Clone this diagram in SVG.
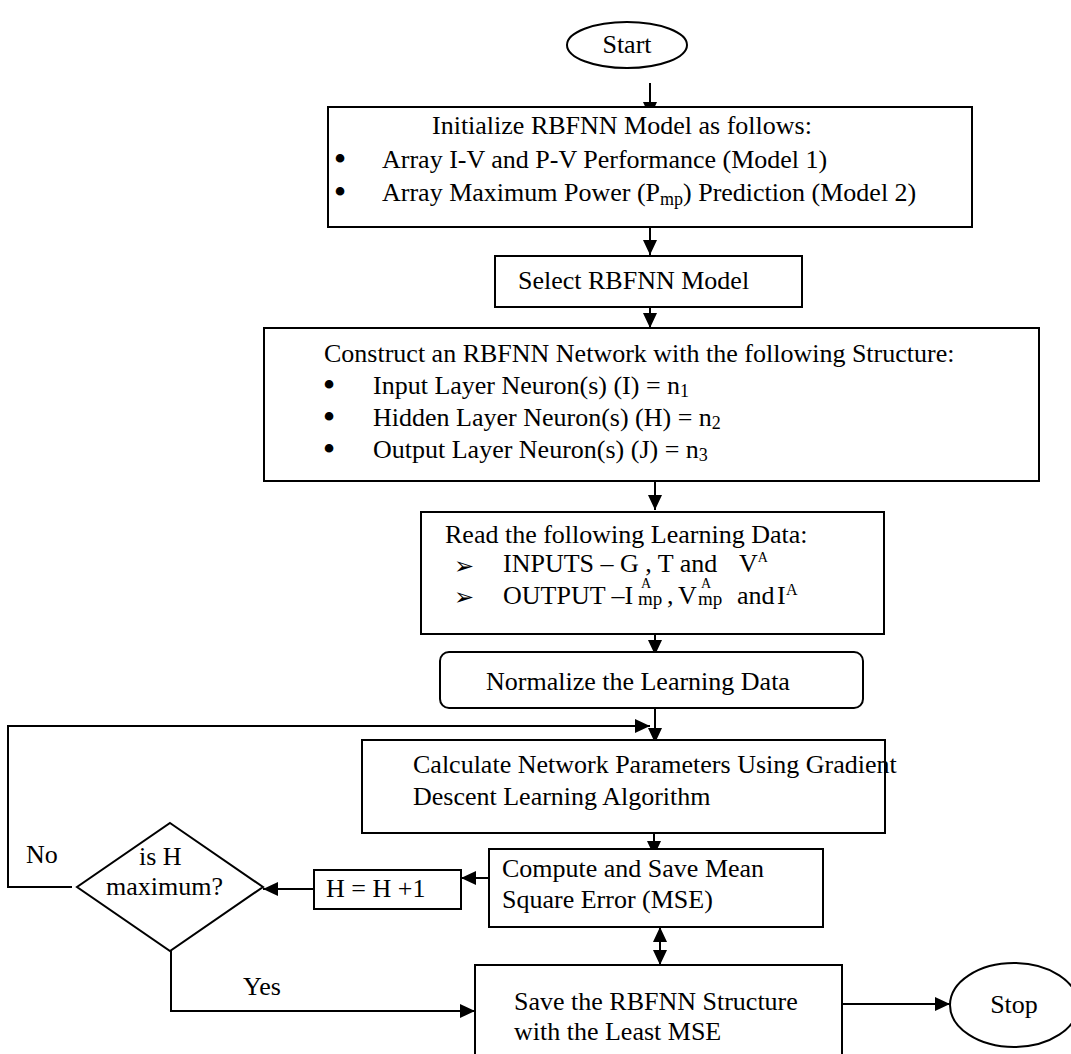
<svg xmlns="http://www.w3.org/2000/svg" width="1071" height="1054" viewBox="0 0 1071 1054">
<style>
  .box { fill: #ffffff; stroke: #000000; stroke-width: 2; }
  .t { font-family: "Liberation Serif", "Times New Roman", serif; font-size: 26px; fill: #000000; }
  .sm { font-size: 18px; }
  .sup { font-size: 14px; }
  .sub { font-size: 19px; }
  .dot { font-family: "Liberation Serif", "Times New Roman", serif; font-size: 36px; fill: #000000; }
  .bul { font-family: "DejaVu Sans", sans-serif; font-size: 24px; fill: #000000; }
  .c { fill: none; stroke: #000000; stroke-width: 2; }
</style>
<defs>
  <marker id="ah" markerUnits="userSpaceOnUse" markerWidth="16" markerHeight="14" refX="15" refY="7" orient="auto-start-reverse">
    <path d="M0,0 L15,7 L0,14 Z" fill="#000000"/>
  </marker>
</defs>
<rect width="1071" height="1054" fill="#ffffff"/>

<g id="connectors">
  <path class="c" d="M650,83 V117" marker-end="url(#ah)"/>
  <path class="c" d="M650,227 V255" marker-end="url(#ah)"/>
  <path class="c" d="M650,307 V328" marker-end="url(#ah)"/>
  <path class="c" d="M655,481 V510" marker-end="url(#ah)"/>
  <path class="c" d="M655,634 V655" marker-end="url(#ah)"/>
  <path class="c" d="M655,708 V743" marker-end="url(#ah)"/>
  <path class="c" d="M72,887 H8 V726 H650" marker-end="url(#ah)"/>
  <path class="c" d="M654,833 V856" marker-end="url(#ah)"/>
  <path class="c" d="M505,878 H461" marker-end="url(#ah)"/>
  <path class="c" d="M314,889 H263" marker-end="url(#ah)"/>
  <path class="c" d="M171,951 V1011 H475" marker-end="url(#ah)"/>
  <path class="c" d="M660,927 V965" marker-start="url(#ah)" marker-end="url(#ah)"/>
  <path class="c" d="M842,1004 H950" marker-end="url(#ah)"/>
</g>

<g id="start">
  <ellipse class="box" cx="627" cy="45" rx="60" ry="23"/>
  <text class="t" x="627" y="53" text-anchor="middle">Start</text>
</g>

<g id="init">
  <rect class="box" x="328" y="107" width="644" height="120"/>
  <text class="t" x="432" y="134">Initialize RBFNN Model as follows:</text>
  <text class="dot" x="340" y="171" text-anchor="middle">•</text>
  <text class="t" x="382" y="168">Array I-V and P-V Performance (Model 1)</text>
  <text class="dot" x="340" y="204" text-anchor="middle">•</text>
  <text class="t" x="382" y="201">Array Maximum Power (P<tspan class="sm" dy="4">mp</tspan><tspan dy="-4">) Prediction (Model 2)</tspan></text>
</g>

<g id="select">
  <rect class="box" x="495" y="256" width="307" height="51"/>
  <text class="t" x="518" y="289">Select RBFNN Model</text>
</g>

<g id="construct">
  <rect class="box" x="264" y="328" width="775" height="153"/>
  <text class="t" x="324" y="362">Construct an RBFNN Network with the following Structure:</text>
  <text class="dot" x="329" y="397" text-anchor="middle">•</text>
  <text class="t" x="373" y="394">Input Layer Neuron(s) (I) = n<tspan class="sm" dy="3">1</tspan></text>
  <text class="dot" x="329" y="429" text-anchor="middle">•</text>
  <text class="t" x="373" y="426">Hidden Layer Neuron(s) (H) = n<tspan class="sm" dy="3">2</tspan></text>
  <text class="dot" x="329" y="461" text-anchor="middle">•</text>
  <text class="t" x="373" y="458">Output Layer Neuron(s) (J) = n<tspan class="sm" dy="3">3</tspan></text>
</g>

<g id="read">
  <rect class="box" x="421" y="512" width="463" height="122"/>
  <text class="t" x="445" y="543">Read the following Learning Data:</text>
  <text class="bul" x="454" y="574">➢</text>
  <text class="t" x="503" y="572">INPUTS – G , T and <tspan x="739">V</tspan><tspan class="sup" dy="-10">A</tspan></text>
  <text class="bul" x="454" y="605">➢</text>
  <text class="t" x="503" y="604">OUTPUT –I</text>
  <text class="t sup" x="641" y="588">A</text>
  <text class="t sub" x="638" y="605">mp</text>
  <text class="t" x="667" y="604">,</text>
  <text class="t" x="678" y="604">V</text>
  <text class="t sup" x="701" y="588">A</text>
  <text class="t sub" x="698" y="605">mp</text>
  <text class="t" x="737" y="604">and</text>
  <text class="t" x="777" y="604">I</text>
  <text class="t" x="786" y="595" style="font-size:16px">A</text>
</g>

<g id="normalize">
  <rect class="box" x="440" y="652" width="423" height="56" rx="9" ry="9"/>
  <text class="t" x="486" y="690">Normalize the Learning Data</text>
</g>

<g id="calculate">
  <rect class="box" x="362" y="740" width="523" height="93"/>
  <text class="t" x="413" y="773">Calculate Network Parameters Using Gradient</text>
  <text class="t" x="413" y="805">Descent Learning Algorithm</text>
</g>

<g id="compute">
  <rect class="box" x="489" y="849" width="334" height="78"/>
  <text class="t" x="502" y="877">Compute and Save Mean</text>
  <text class="t" x="502" y="908">Square Error (MSE)</text>
</g>

<g id="increment">
  <rect class="box" x="314" y="870" width="147" height="39"/>
  <text class="t" x="326" y="897">H = H +1</text>
</g>

<g id="decision">
  <polygon class="box" points="170,823 263,887 170,951 77,887"/>
  <text class="t" x="139" y="865">is H</text>
  <text class="t" x="106" y="895">maximum?</text>
</g>

<g id="labels">
  <text class="t" x="26" y="863">No</text>
  <text class="t" x="243" y="995">Yes</text>
</g>

<g id="save">
  <rect class="box" x="475" y="965" width="367" height="100"/>
  <text class="t" x="514" y="1010">Save the RBFNN Structure</text>
  <text class="t" x="514" y="1040">with the Least MSE</text>
</g>

<g id="stop">
  <ellipse class="box" cx="1014" cy="1005" rx="64" ry="42"/>
  <text class="t" x="1014" y="1013" text-anchor="middle">Stop</text>
</g>
</svg>
